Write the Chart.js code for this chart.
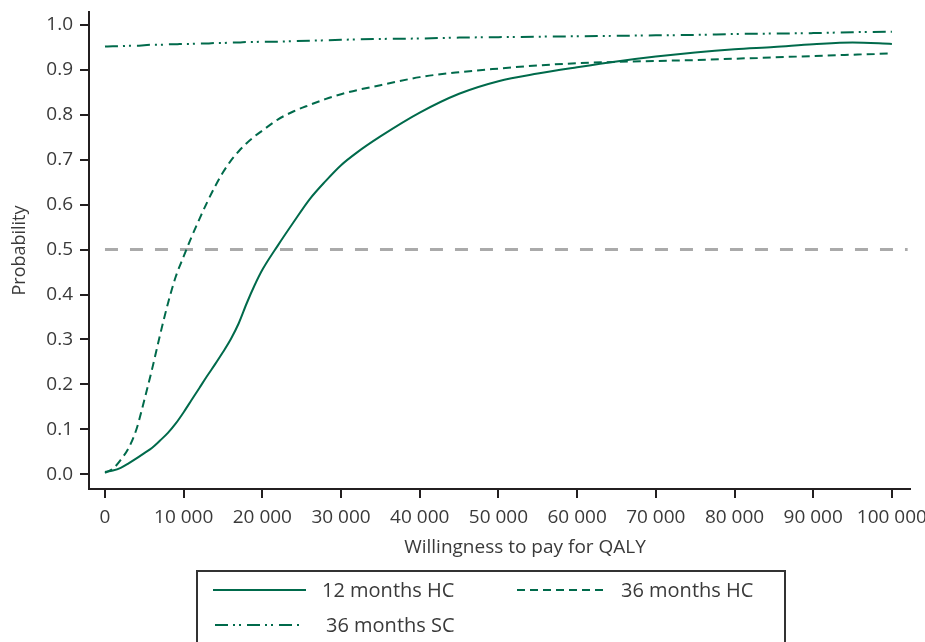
<!DOCTYPE html>
<html>
<head>
<meta charset="utf-8">
<script src="https://cdn.jsdelivr.net/npm/chart.js@4"></script>
<style>
  html, body { margin: 0; padding: 0; background: #fff; overflow: hidden; }
  #wrap { position: relative; width: 925px; height: 642px; }
  #legend { position: absolute; left: 196px; top: 570px; width: 590px; height: 90px; border: 2px solid #333; box-sizing: border-box; }
  .item { position: absolute; font-family: "Open Sans", sans-serif; font-size: 20px; color: #3a3a3a; white-space: nowrap; line-height: 24px; }
  .item svg { position: absolute; }
</style>
</head>
<body>
<div id="wrap">
  <canvas id="ceac" width="925" height="642"></canvas>
  <div id="legend"></div>
</div>
<script>
// willingness to pay (x) and probability cost-effective per strategy
const wtp = [0, 1000, 2000, 3000, 4000, 5000, 6000, 7000, 8000, 9000, 10000, 11000, 12000, 13000, 14000, 15000, 16000, 17000, 18000, 19000, 20000, 22000, 24000, 26000, 28000, 30000, 32000, 35000, 40000, 45000, 50000, 55000, 60000, 65000, 70000, 75000, 80000, 85000, 90000, 95000, 100000];
const hc12 = [0.005, 0.008, 0.014, 0.024, 0.035, 0.047, 0.059, 0.075, 0.092, 0.113, 0.138, 0.165, 0.192, 0.219, 0.245, 0.272, 0.301, 0.336, 0.38, 0.42, 0.455, 0.51, 0.562, 0.612, 0.652, 0.688, 0.716, 0.752, 0.805, 0.847, 0.875, 0.892, 0.906, 0.919, 0.93, 0.939, 0.946, 0.951, 0.957, 0.961, 0.958];
const hc36 = [0.003, 0.012, 0.032, 0.058, 0.1, 0.165, 0.235, 0.31, 0.38, 0.44, 0.485, 0.528, 0.568, 0.606, 0.641, 0.672, 0.698, 0.719, 0.737, 0.752, 0.765, 0.79, 0.808, 0.822, 0.835, 0.846, 0.855, 0.866, 0.884, 0.895, 0.903, 0.91, 0.915, 0.918, 0.92, 0.922, 0.925, 0.928, 0.931, 0.934, 0.937];
const sc36 = [0.952, 0.953, 0.953, 0.954, 0.954, 0.955, 0.956, 0.956, 0.957, 0.957, 0.958, 0.958, 0.959, 0.959, 0.96, 0.96, 0.961, 0.961, 0.962, 0.962, 0.963, 0.963, 0.964, 0.965, 0.966, 0.967, 0.968, 0.969, 0.97, 0.972, 0.973, 0.974, 0.975, 0.976, 0.977, 0.978, 0.98, 0.981, 0.982, 0.984, 0.985];
const refX = [0, 102000];
const refY = [0.5, 0.5];
const xTicks = [0, 10000, 20000, 30000, 40000, 50000, 60000, 70000, 80000, 90000, 100000];
const yTicks = [0, 0.1, 0.2, 0.3, 0.4, 0.5, 0.6, 0.7, 0.8, 0.9, 1.0];
const seriesNames = ['12 months HC', '36 months HC', '36 months SC'];
const xTitle = 'Willingness to pay for QALY';
const yTitle = 'Probability';

const green = '#006a4b';
const axisCol = '#231f20';
const textCol = '#3a3a3a';
const font = '"Open Sans", sans-serif';
const dashes = [[], [8, 5], [13, 5, 2, 4, 2, 6]];

const pts = (xs, ys) => xs.map((x, i) => ({x: x, y: ys[i]}));
const fmt = v => String(v).replace(/\B(?=(\d{3})+(?!\d))/g, ' ');

const lineDs = (label, ys, i) => ({
  label: label, data: pts(wtp, ys), borderColor: green, borderWidth: 2,
  borderDash: dashes[i], pointRadius: 0, cubicInterpolationMode: 'monotone', fill: false
});

const xTitlePlugin = {
  id: 'xTitle',
  afterDraw(chart) {
    const ctx = chart.ctx;
    ctx.save();
    ctx.font = '19px ' + font;
    ctx.fillStyle = textCol;
    ctx.textAlign = 'center';
    ctx.textBaseline = 'middle';
    ctx.fillText(xTitle, 525, 548);
    ctx.restore();
  }
};

new Chart(document.getElementById('ceac'), {
  type: 'line',
  data: {
    datasets: [
      lineDs(seriesNames[0], hc12, 0),
      lineDs(seriesNames[1], hc36, 1),
      lineDs(seriesNames[2], sc36, 2),
      {label: 'ref', data: pts(refX, refY), borderColor: '#aaaaaa', borderWidth: 3, borderDash: [13, 12], pointRadius: 0}
    ]
  },
  options: {
    responsive: false, animation: false,
    layout: {padding: {top: 12, right: 15, left: 0, bottom: 103}},
    plugins: {legend: {display: false}, tooltip: {enabled: false}},
    scales: {
      x: {
        type: 'linear', min: -2030, max: 102300,
        afterBuildTicks: s => { s.ticks = xTicks.map(v => ({value: v})); },
        afterFit: s => { s.height = 50; s.paddingLeft = 0; s.paddingRight = 0; },
        border: {display: true, color: axisCol, width: 2},
        grid: {drawOnChartArea: false, drawTicks: true, tickLength: 9, color: axisCol, lineWidth: 2},
        ticks: {color: textCol, font: {family: font, size: 19}, padding: 8, maxRotation: 0, autoSkip: false, callback: v => fmt(v)}
      },
      y: {
        type: 'linear', min: -0.033, max: 1.029,
        afterBuildTicks: s => { s.ticks = yTicks.map(v => ({value: v})); },
        afterFit: s => { s.width = 89; s.paddingTop = 0; s.paddingBottom = 0; },
        border: {display: true, color: axisCol, width: 2},
        grid: {drawOnChartArea: false, drawTicks: true, tickLength: 9, color: axisCol, lineWidth: 2},
        ticks: {color: textCol, font: {family: font, size: 19}, padding: 7, autoSkip: false, callback: v => v.toFixed(1)},
        title: {display: true, text: yTitle, color: textCol, font: {family: font, size: 18}, padding: {top: 9, bottom: 0}}
      }
    }
  },
  plugins: [xTitlePlugin]
});

// boxed legend below the plot
const legendItems = [
  {name: seriesNames[0], dash: dashes[0], lx: 213, lw: 93, ly: 590, tx: 322},
  {name: seriesNames[1], dash: dashes[1], lx: 517, lw: 89, ly: 590, tx: 621},
  {name: seriesNames[2], dash: dashes[2], lx: 215, lw: 87, ly: 625, tx: 326}
];
const legend = document.getElementById('legend');
legendItems.forEach(it => {
  const d = document.createElement('div');
  d.className = 'item';
  d.style.left = (it.tx - 198) + 'px';
  d.style.top = (it.ly - 572 - 12) + 'px';
  d.textContent = it.name;
  legend.appendChild(d);
  const svg = document.createElementNS('http://www.w3.org/2000/svg', 'svg');
  svg.setAttribute('width', it.lw);
  svg.setAttribute('height', 6);
  svg.style.position = 'absolute';
  svg.style.left = (it.lx - 198) + 'px';
  svg.style.top = (it.ly - 572 - 3) + 'px';
  const ln = document.createElementNS('http://www.w3.org/2000/svg', 'line');
  ln.setAttribute('x1', 0); ln.setAttribute('x2', it.lw);
  ln.setAttribute('y1', 3); ln.setAttribute('y2', 3);
  ln.setAttribute('stroke', green); ln.setAttribute('stroke-width', 2);
  if (it.dash.length) ln.setAttribute('stroke-dasharray', it.dash.join(' '));
  svg.appendChild(ln);
  legend.appendChild(svg);
});
</script>
</body>
</html>
